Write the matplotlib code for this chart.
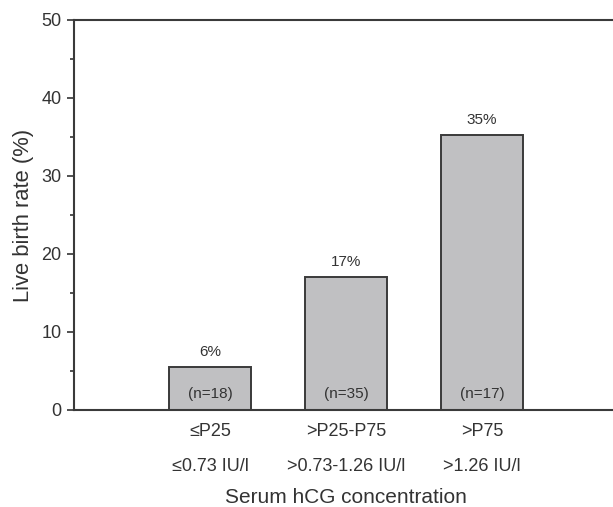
import matplotlib
matplotlib.use('Agg')
import matplotlib.pyplot as plt
from matplotlib.ticker import MultipleLocator

plt.rcParams.update({
    'font.family': ['Liberation Sans', 'DejaVu Sans'],
    'text.color': '#333333',
    'axes.labelcolor': '#333333',
    'xtick.color': '#333333',
    'ytick.color': '#333333',
})

# ── data ─────────────────────────────────────────────────────────────────────
groups     = ['\u2264P25', '>P25-P75', '>P75']
conc       = ['\u22640.73 IU/l', '>0.73-1.26 IU/l', '>1.26 IU/l']
live_birth = [5.5, 17.1, 35.3]
pct_labels = ['6%', '17%', '35%']
n_labels   = ['(n=18)', '(n=35)', '(n=17)']

x = [1, 2, 3]

fig = plt.figure(figsize=(6.13, 5.07), dpi=100)
ax = fig.add_axes([74/613, (507-410)/507, 544/613, 390/507])

ax.bar(x, live_birth, width=0.6, color='#c0c0c2', edgecolor='#3a3a3a',
       linewidth=1.4, zorder=2)

for xi, v, p, n in zip(x, live_birth, pct_labels, n_labels):
    ax.text(xi, v + 1.0, p, ha='center', va='bottom', fontsize=11)
    ax.text(xi, 2.1, n, ha='center', va='center', fontsize=11)

ax.set_xlim(0, 4)
ax.set_ylim(0, 50)
ax.set_xticks(x)
ax.set_xticklabels([f'{g}\n{c}' for g, c in zip(groups, conc)],
                   fontsize=13, linespacing=2.45)
ax.tick_params(axis='x', length=0, pad=9)
ax.yaxis.set_major_locator(MultipleLocator(10))
ax.yaxis.set_minor_locator(MultipleLocator(5))
ax.tick_params(axis='y', which='major', length=5, width=1.2,
               labelsize=13, pad=4)
ax.tick_params(axis='y', which='minor', length=3, width=1.2)

for s in ['left', 'top', 'bottom']:
    ax.spines[s].set_linewidth(1.5)
    ax.spines[s].set_color('#3a3a3a')
ax.spines['right'].set_visible(False)

ax.set_ylabel('Live birth rate (%)', fontsize=15.8, labelpad=5)
ax.set_xlabel('Serum hCG concentration', fontsize=15, labelpad=9)

fig.savefig('out.png', dpi=100, facecolor='white')
